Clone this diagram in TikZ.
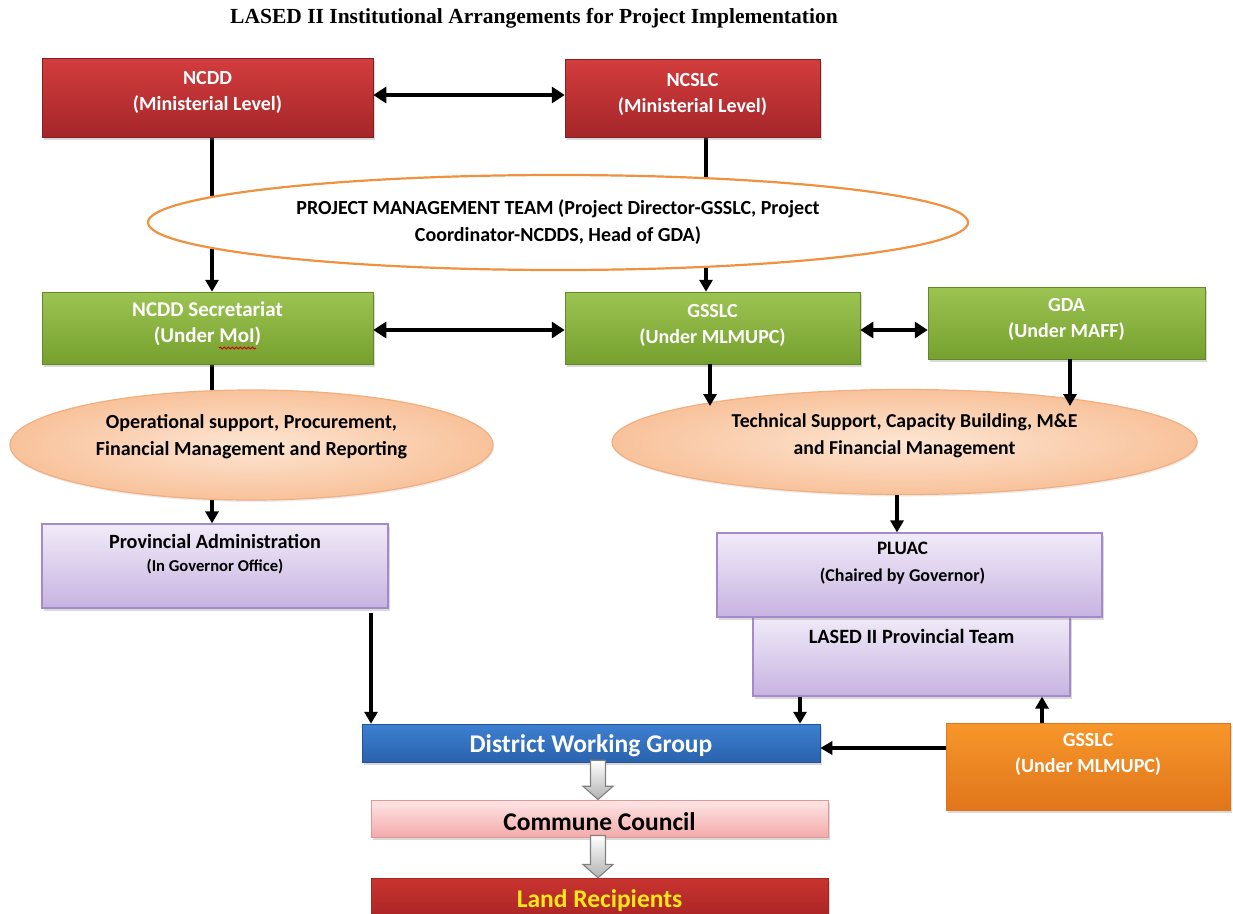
\documentclass[tikz,border=0pt]{standalone}
\usepackage{fontspec}
\setmainfont{Carlito}
\newfontfamily\titlefont{Liberation Serif}
\usetikzlibrary{shapes.geometric,arrows.meta,calc,shadows,backgrounds,decorations.pathmorphing}
\definecolor{redT}{HTML}{D33D3D}
\definecolor{redB}{HTML}{A5262A}
\definecolor{grnT}{HTML}{9CC452}
\definecolor{grnB}{HTML}{76A02F}
\definecolor{pmtOr}{HTML}{F0913F}
\definecolor{ellIn}{HTML}{FDE5D2}
\definecolor{ellOut}{HTML}{F8C29B}
\definecolor{ellBd}{HTML}{F3AE7E}
\definecolor{purT}{HTML}{F1EBF8}
\definecolor{purB}{HTML}{C7B3E1}
\definecolor{purBd}{HTML}{A28ACB}
\definecolor{orgT}{HTML}{F7962A}
\definecolor{orgB}{HTML}{E0761B}
\definecolor{bluT}{HTML}{3E80D2}
\definecolor{bluB}{HTML}{2A62AD}
\definecolor{pnkT}{HTML}{FDE6E6}
\definecolor{pnkB}{HTML}{F4AAAA}
\definecolor{pnkBd}{HTML}{E29696}
\definecolor{lrT}{HTML}{C9342F}
\definecolor{lrB}{HTML}{A82424}
\definecolor{ylw}{HTML}{FFE71A}
\definecolor{arrGr}{HTML}{808080}
\begin{document}
\begin{tikzpicture}[x=1pt,y=-1pt,
  boxbase/.style={rectangle, inner sep=0pt, drop shadow={shadow xshift=1.5pt,shadow yshift=-2.5pt,opacity=.3}},
  redbox/.style={boxbase, top color=redT, bottom color=redB, draw=redB!80!black, line width=.5pt},
  greenbox/.style={boxbase, top color=grnT, bottom color=grnB, draw=grnB!85!black, line width=.5pt},
  purplebox/.style={boxbase, top color=purT, bottom color=purB, draw=purBd, line width=1.2pt},
  orangebox/.style={boxbase, top color=orgT, bottom color=orgB, draw=orgB, line width=.5pt},
  bluebox/.style={boxbase, top color=bluT, bottom color=bluB, draw=bluB!85!black, line width=.5pt},
  pinkbox/.style={boxbase, top color=pnkT, bottom color=pnkB, draw=pnkBd, line width=1pt},
  lrbox/.style={boxbase, top color=lrT, bottom color=lrB, draw=lrB, line width=.5pt},
  softell/.style={ellipse, inner sep=0pt, inner color=ellIn, outer color=ellOut, draw=ellBd, line width=1.2pt,
     drop shadow={shadow xshift=1pt,shadow yshift=-2pt,opacity=.15}},
  lbl/.style={font=\bfseries\fontsize{20}{26}\selectfont, align=center, inner sep=0pt},
  wlbl/.style={lbl, text=white},
  slbl/.style={font=\bfseries\fontsize{16.6}{22}\selectfont, align=center, inner sep=0pt},
  biglbl/.style={font=\bfseries\fontsize{25.5}{30}\selectfont, align=center, inner sep=0pt},
  arr/.style={line width=3.4pt, -{Triangle[length=12pt,width=13pt]}},
  darr/.style={line width=3.8pt, {Triangle[length=13pt,width=16pt]}-{Triangle[length=13pt,width=16pt]}},
  blockarr/.style={draw=arrGr, line width=1.1pt, line join=miter, top color=white, bottom color=black!30}
]
\clip (0,0) rectangle (1233,913);

% title
\node[font=\titlefont\bfseries\fontsize{21.5}{26}\selectfont, inner sep=0pt] (title) at (534,18)
  {LASED II Institutional Arrangements for Project Implementation};

% top red boxes
\node[redbox, minimum width=331pt, minimum height=79pt] (ncdd) at (207.5,97.5) {};
\node[wlbl] (ncddt) at ([yshift=5pt]ncdd.center) {NCDD\\(Ministerial Level)};
\node[redbox, minimum width=255pt, minimum height=78pt] (ncslc) at (692.5,98) {};
\node[wlbl] (ncslct) at ([yshift=3.5pt]ncslc.center) {NCSLC\\(Ministerial Level)};

% project management team
\node[ellipse, draw=pmtOr, line width=2.2pt, fill=white, minimum width=820pt, minimum height=95pt, inner sep=0pt]
  (pmt) at (558,222.5) {};
\node[lbl, font=\bfseries\fontsize{20}{27}\selectfont] (pmtt) at ([yshift=0.5pt]pmt.center)
  {PROJECT MANAGEMENT TEAM (Project Director-GSSLC, Project\\Coordinator-NCDDS, Head of GDA)};

% green boxes
\node[greenbox, minimum width=331pt, minimum height=72pt] (ncddsec) at (207.5,328) {};
\node[wlbl, font=\bfseries\fontsize{21}{26}\selectfont] (ncddsect) at ([yshift=4pt]ncddsec.center) {NCDD Secretariat\\(Under MoI)};
\node[greenbox, minimum width=295pt, minimum height=72pt] (gsslc) at (712.5,328) {};
\node[wlbl] (gsslct) at ([yshift=3pt]gsslc.center) {GSSLC\\(Under MLMUPC)};
\node[greenbox, minimum width=277pt, minimum height=72pt] (gda) at (1066.5,323) {};
\node[wlbl] (gdat) at ([yshift=3.5pt]gda.center) {GDA\\(Under MAFF)};
\draw[red!80!black, line width=1pt, decorate, decoration={snake, amplitude=.9pt, segment length=4pt}]
  (219,348) -- (256,348);

% support ellipses
\node[softell, minimum width=483pt, minimum height=110pt] (lell) at (251.5,445) {};
\node[lbl, font=\bfseries\fontsize{20}{27}\selectfont] (lellt) at ([yshift=8pt]lell.center) {Operational support, Procurement,\\Financial Management and Reporting};
\node[softell, minimum width=585pt, minimum height=105pt] (rell) at (904.5,442) {};
\node[lbl, font=\bfseries\fontsize{19.7}{27}\selectfont] (rellt) at ([yshift=6pt]rell.center) {Technical Support, Capacity Building, M\&E\\and Financial Management};

% provincial level
\node[purplebox, minimum width=346pt, minimum height=84pt] (prov) at (215,566) {};
\node[lbl, font=\bfseries\fontsize{20.2}{24}\selectfont] (provt1) at ([yshift=-18pt]prov.north) {Provincial Administration};
\node[slbl] (provt2) at ([yshift=-43pt]prov.north) {(In Governor Office)};
\node[purplebox, minimum width=317pt, minimum height=80pt] (lpt) at (911.5,656) {};
\node[lbl, font=\bfseries\fontsize{20.3}{24}\selectfont] (lptt) at ([yshift=-21pt]lpt.north) {LASED II Provincial Team};
\node[purplebox, minimum width=385pt, minimum height=84pt] (pluac) at (909.5,575) {};
\node[lbl, font=\bfseries\fontsize{19}{24}\selectfont] (pluact1) at ([xshift=-7pt,yshift=-16pt]pluac.north) {PLUAC};
\node[lbl, font=\bfseries\fontsize{18}{24}\selectfont] (pluact2) at ([xshift=-7pt,yshift=-44pt]pluac.north) {(Chaired by Governor)};

% district / commune
\node[bluebox, minimum width=458pt, minimum height=38pt] (dwg) at (591,743) {};
\node[biglbl, text=white] (dwgt) at ([yshift=-3pt]dwg.center) {District Working Group};
\node[orangebox, minimum width=284pt, minimum height=87pt] (org) at (1088,766.5) {};
\node[wlbl] (orgt) at ([yshift=12pt]org.center) {GSSLC\\(Under MLMUPC)};
\node[pinkbox, minimum width=457pt, minimum height=37pt] (cc) at (599.5,818.5) {};
\node[biglbl] (cct) at ([yshift=-3pt]cc.center) {Commune Council};
\node[lrbox, minimum width=457pt, minimum height=42pt] (lr) at (599.5,899) {};
\node[biglbl, text=ylw] (lrt) at ([yshift=-2pt]lr.center) {Land Recipients};

% block arrows
\coordinate (b1) at ([xshift=-1.5pt]cc.north |- dwg.south);
\coordinate (b2) at ([xshift=-1.5pt]cc.south);
\draw[blockarr] ($(b1)+(-7.5,-2)$) -- ($(b1)+(-7.5,24)$) -- ($(b1)+(-15,24)$) -- ([xshift=-1.5pt]cc.north)
   -- ($(b1)+(15,24)$) -- ($(b1)+(7.5,24)$) -- ($(b1)+(7.5,-2)$) -- cycle;
\draw[blockarr] ($(b2)+(-7.5,-2)$) -- ($(b2)+(-7.5,27)$) -- ($(b2)+(-15,27)$) -- ([xshift=-1.5pt]lr.north)
   -- ($(b2)+(15,27)$) -- ($(b2)+(7.5,27)$) -- ($(b2)+(7.5,-2)$) -- cycle;

% connectors
\begin{pgfonlayer}{background}
\draw[arr] ([xshift=4.5pt]ncdd.south) -- ([xshift=4.5pt]ncdd.south |- ncddsec.north);
\draw[arr] ([xshift=13.5pt]ncslc.south) -- ([xshift=13.5pt]ncslc.south |- gsslc.north);
\draw[arr] ([xshift=4.5pt]ncddsec.south) -- ([xshift=4.5pt]ncddsec.south |- prov.north);
\end{pgfonlayer}
\draw[darr] ([yshift=2.5pt]ncdd.east) -- ([yshift=2.5pt]ncdd.east -| ncslc.west);
\draw[darr] ([yshift=-2pt]ncddsec.east) -- ([yshift=-2pt]ncddsec.east -| gsslc.west);
\draw[darr] ([yshift=-2pt]gsslc.east) -- ([yshift=-2pt]gsslc.east -| gda.west);
\coordinate (rtop1) at (710,406);
\coordinate (rtop2) at (1070,406);
\draw[arr] (gsslc.south -| rtop1) -- (rtop1);
\draw[arr] (gda.south -| rtop2) -- (rtop2);
\draw[arr] ([xshift=-12.5pt]pluac.north |- rell.south) -- ([xshift=-12.5pt]pluac.north);
\draw[arr] ([xshift=156pt,yshift=-4pt]prov.south) -- ([xshift=156pt]prov.south |- dwg.north);
\draw[arr] ([xshift=-111.5pt]lpt.south) -- ([xshift=-111.5pt]lpt.south |- dwg.north);
\draw[arr] ([xshift=-46pt]org.north) -- ([xshift=-46pt]org.north |- lpt.south);
\draw[arr] ([yshift=18.5pt]org.west) -- ([yshift=18.5pt]org.west -| dwg.east);
\end{tikzpicture}
\end{document}
